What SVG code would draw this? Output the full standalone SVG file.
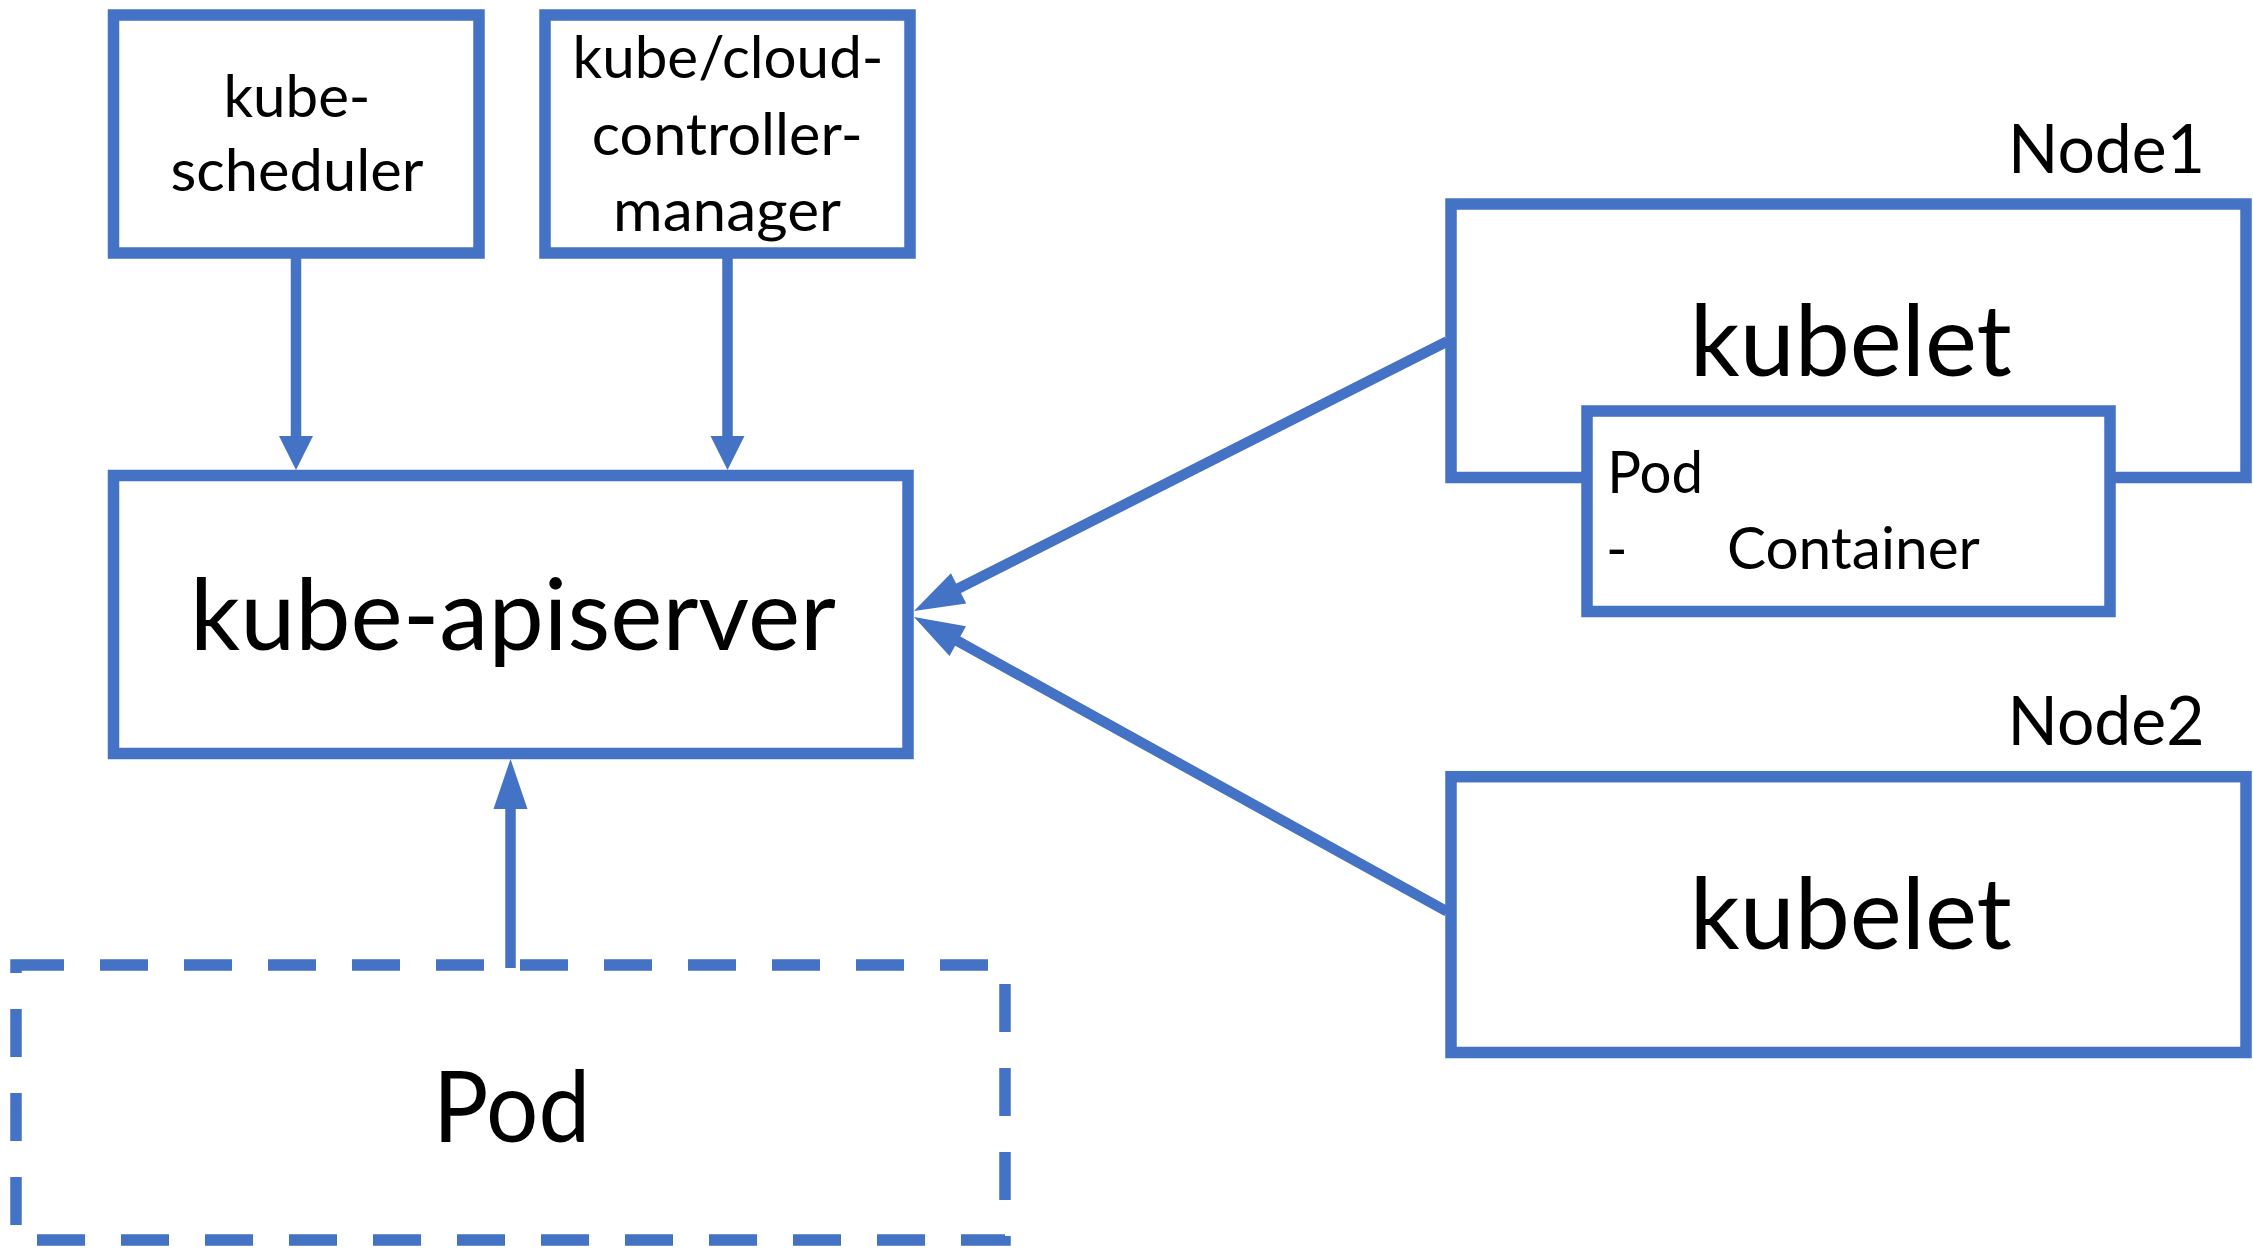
<svg xmlns="http://www.w3.org/2000/svg" width="2253" height="1255" viewBox="0 0 2253 1255">
  <defs>
    <style>
      .box { fill: #ffffff; stroke: #4472C4; stroke-width: 11.5; }
      .dash { fill: none; stroke: #4472C4; stroke-width: 11.5; stroke-dasharray: 48 36; }
      .conn { fill: none; stroke: #4472C4; stroke-width: 10.5; }
      .t { font-family: Lato, "Liberation Sans", sans-serif; fill: #000000; }
      .s { font-size: 58px; }
      .m { font-size: 68px; }
      .b { font-size: 99px; }
    </style>
    <marker id="arrS" markerUnits="userSpaceOnUse" markerWidth="40" markerHeight="40" refX="2" refY="17" orient="auto" overflow="visible">
      <path d="M0,0 L34,17 L0,34 z" fill="#4472C4"/>
    </marker>
    <marker id="arrL" markerUnits="userSpaceOnUse" markerWidth="56" markerHeight="40" refX="2" refY="17" orient="auto" overflow="visible">
      <path d="M0,0 L50,17 L0,34 z" fill="#4472C4"/>
    </marker>
  </defs>
  <rect width="2253" height="1255" fill="#ffffff"/>

  <g id="connectors">
    <path class="conn" d="M296,253 L296,438" marker-end="url(#arrS)"/>
    <path class="conn" d="M727.5,253 L727.5,438" marker-end="url(#arrS)"/>
    <path class="conn" d="M510.5,968 L510.5,807" marker-end="url(#arrL)"/>
    <path class="conn" d="M1447,341.5 L956.8,589.3" marker-end="url(#arrL)"/>
    <path class="conn" d="M1447,911.5 L956,640.2" marker-end="url(#arrL)"/>
  </g>

  <g id="kube-scheduler">
    <rect class="box" x="113.5" y="15" width="365.5" height="238"/>
    <text class="t s" x="297" y="117" text-anchor="middle" textLength="147" lengthAdjust="spacingAndGlyphs">kube-</text>
    <text class="t s" x="297" y="191" text-anchor="middle" textLength="253" lengthAdjust="spacingAndGlyphs">scheduler</text>
  </g>

  <g id="cloud-controller-manager">
    <rect class="box" x="545" y="15" width="365" height="238"/>
    <text class="t s" x="728" y="78" text-anchor="middle" textLength="311" lengthAdjust="spacingAndGlyphs">kube/cloud-</text>
    <text class="t s" x="727.3" y="155" text-anchor="middle" textLength="271" lengthAdjust="spacingAndGlyphs">controller-</text>
    <text class="t s" x="727" y="231" text-anchor="middle" textLength="228" lengthAdjust="spacingAndGlyphs">manager</text>
  </g>

  <g id="kube-apiserver">
    <rect class="box" x="113.5" y="475.5" width="794.5" height="278"/>
    <text class="t b" x="513" y="650" text-anchor="middle" textLength="646" lengthAdjust="spacingAndGlyphs">kube-apiserver</text>
  </g>

  <g id="pod">
    <rect class="dash" x="16" y="965" width="989" height="275"/>
    <text class="t b" x="511.6" y="1142" text-anchor="middle" textLength="157" lengthAdjust="spacingAndGlyphs">Pod</text>
  </g>

  <g id="node1">
    <text class="t m" x="2106.5" y="173" text-anchor="middle" textLength="197" lengthAdjust="spacingAndGlyphs">Node1</text>
    <rect class="box" x="1451" y="204" width="795" height="273.5"/>
    <text class="t b" x="1850.8" y="375.5" text-anchor="middle" textLength="322" lengthAdjust="spacingAndGlyphs">kubelet</text>
    <g id="node1-pod">
      <rect class="box" x="1587" y="411" width="523" height="200.5"/>
      <text class="t s" x="1655.2" y="493" text-anchor="middle" textLength="96" lengthAdjust="spacingAndGlyphs">Pod</text>
      <text class="t s" x="1606" y="569.3">-</text>
      <text class="t s" x="1853.4" y="569.3" text-anchor="middle" textLength="253" lengthAdjust="spacingAndGlyphs">Container</text>
    </g>
  </g>

  <g id="node2">
    <text class="t m" x="2106" y="745" text-anchor="middle" textLength="197" lengthAdjust="spacingAndGlyphs">Node2</text>
    <rect class="box" x="1451" y="776.7" width="795" height="275.8"/>
    <text class="t b" x="1850.8" y="949" text-anchor="middle" textLength="322" lengthAdjust="spacingAndGlyphs">kubelet</text>
  </g>
</svg>
